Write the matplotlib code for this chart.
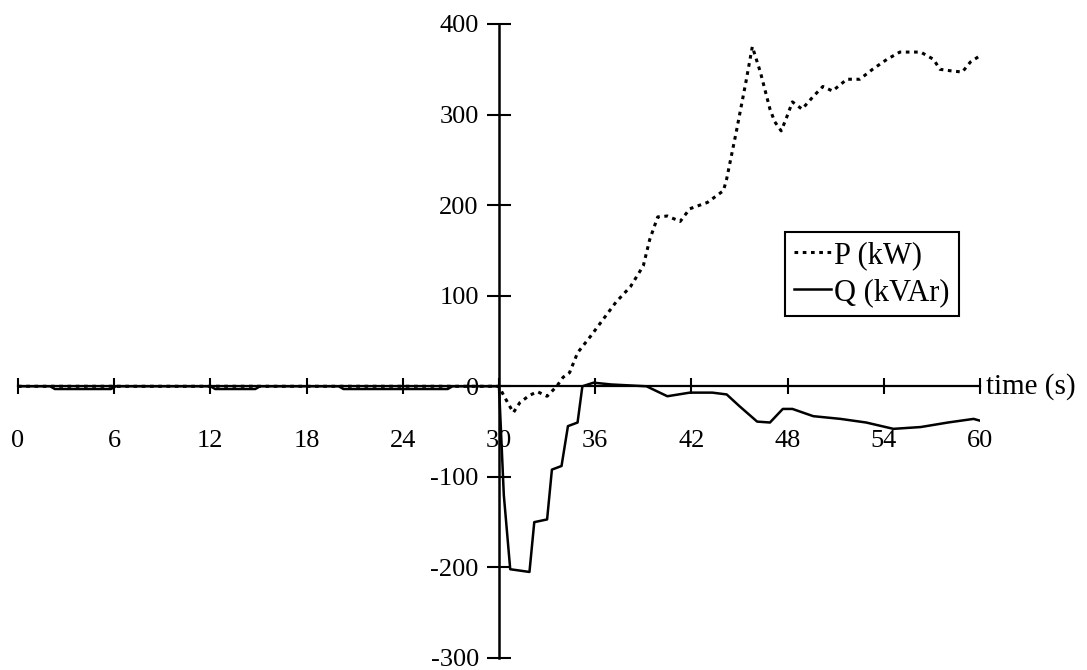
import matplotlib
matplotlib.use("Agg")
import matplotlib.pyplot as plt
import numpy as np

plt.rcParams['font.family'] = ['Liberation Serif', 'DejaVu Serif']
plt.rcParams['axes.unicode_minus'] = False

# P (kW)
t_p = [0, 30, 30.2, 30.6, 30.9, 31.3, 31.9, 32.4, 33, 33.6, 34, 34.4, 34.9, 35.7,
       36.5, 37.3, 38.2, 39, 39.4, 39.9, 40.5, 41.3, 41.9, 43, 44, 44.2, 44.8,
       45.4, 45.8, 46.3, 46.9, 47.2, 47.6, 47.9, 48.3, 48.9, 49.6, 50.2, 50.8,
       51.7, 52.5, 53.3, 54.2, 55, 56.3, 57.1, 57.5, 58.3, 58.9, 59.4, 60]
p_kw = [0, 0, -7, -20, -29, -18, -10, -6, -11, 0, 10, 15, 37, 55,
        74, 93, 110, 133, 162, 187, 188, 182, 196, 203, 216, 229, 281,
        336, 375, 347, 306, 292, 282, 295, 314, 306, 320, 331, 326,
        339, 339, 350, 361, 369, 369, 361, 350, 348, 347, 358, 365]

# Q (kVAr)
t_q = [0, 2, 2.3, 5.8, 6.1, 12, 12.3, 14.8, 15.1, 20, 20.3, 26.8, 27.1, 30, 30.3, 30.7,
       31.9, 32.2, 33, 33.3, 33.9, 34.3, 34.9, 35.2, 35.9, 37, 39.2, 40.5, 41.9,
       43.3, 44.2, 45, 46.1, 46.9, 47.7, 48.3, 49.6, 51.3, 52.9, 54.6, 56.3, 58,
       59.6, 60]
q_kvar = [0, 0, -3, -3, 0, 0, -3, -3, 0, 0, -3, -3, 0, 0, -120, -202,
          -205, -150, -147, -92, -88, -44, -40, 0, 4, 2, 0, -11, -7,
          -7, -9, -22, -39, -40, -25, -25, -33, -36, -40, -47, -45, -40,
          -36, -38]

x_ticks = list(range(0, 61, 6))
y_ticks = list(range(-300, 401, 100))

fig = plt.figure(figsize=(10.87, 6.70), dpi=100)
ax = fig.add_axes([18 / 1087, 12 / 670, 962 / 1087, 634 / 670])

ax.plot(t_p, p_kw, color='black', lw=2.2, linestyle=(0, (1.2, 1.5)), label='P (kW)')
ax.plot(t_q, q_kvar, color='black', lw=1.8, label='Q (kVAr)')

ax.set_xlim(0, 60)
ax.set_ylim(-300, 400)

ax.spines['top'].set_visible(False)
ax.spines['right'].set_visible(False)
ax.spines['left'].set_position(('data', 30))
ax.spines['bottom'].set_position(('data', 0))
ax.spines['left'].set_linewidth(1.8)
ax.spines['bottom'].set_linewidth(1.6)

ax.set_xticks(x_ticks)
ax.set_yticks(y_ticks)
ax.tick_params(axis='x', direction='inout', length=11, width=1.5, pad=26, labelsize=19)
ax.tick_params(axis='y', direction='inout', length=17, width=1.5, pad=6, labelsize=19)

ax.text(60.4, 0, 'time (s)', fontsize=21, ha='left', va='center')

leg = ax.legend(loc='upper left', bbox_to_anchor=(767 / 962, 1 - (232 - 24) / 634),
                fontsize=22, handlelength=1.2, handletextpad=0.1,
                borderpad=0.3, labelspacing=0.25, borderaxespad=0,
                fancybox=False, framealpha=1)
leg.get_frame().set_edgecolor('black')
leg.get_frame().set_linewidth(1.5)

fig.savefig('out.png', dpi=100)
